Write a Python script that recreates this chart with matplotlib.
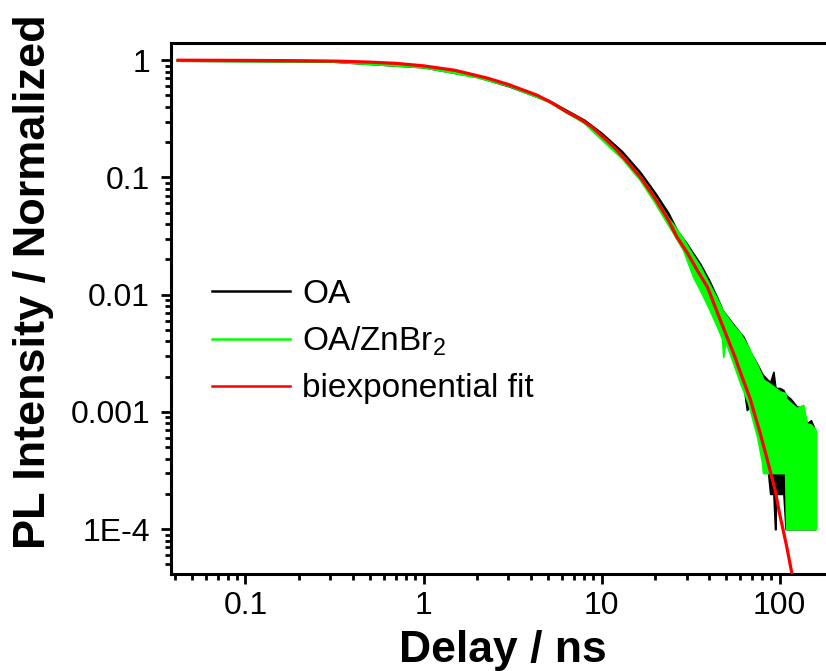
import matplotlib
matplotlib.use('Agg')
import matplotlib.pyplot as plt
from matplotlib.lines import Line2D
from matplotlib.ticker import FixedLocator, FixedFormatter, LogLocator, NullFormatter

plt.rcParams['font.family'] = ['Liberation Sans', 'DejaVu Sans']
plt.rcParams['mathtext.fontset'] = 'custom'
plt.rcParams['mathtext.rm'] = 'Liberation Sans'
plt.rcParams['mathtext.it'] = 'Liberation Sans:italic'
plt.rcParams['mathtext.bf'] = 'Liberation Sans:bold'

# ---------------- data ----------------
series_labels = ['OA', 'OA/ZnBr$_\\mathregular{2}$', 'biexponential fit']

# OA (black): noisy decay, lower / upper envelope of the trace
oa_t = [0.041, 0.3, 1, 2, 3, 5, 8, 10, 13, 16.5, 20, 23.7, 26.5, 30, 35.7, 40,
        44.4, 48, 52.7, 57, 62.6, 65.4, 68, 74.5, 80, 85, 88.5, 92.3, 94.2,
        94.8, 95.5, 100, 105, 108, 115, 125, 134, 142, 150, 158]
oa_lo = [0.99, 0.975, 0.87, 0.72, 0.60, 0.45, 0.297, 0.224, 0.153, 0.099, 0.065,
         0.043, 0.031, 0.0232, 0.0148, 0.0107, 0.0074, 0.0054, 0.0038, 0.0027,
         0.0017, 0.00104, 0.0011, 0.00075, 0.0005, 0.000367, 0.0002, 0.0002,
         0.0001, 0.0001, 0.0002, 0.0002, 0.0002, 0.0001, 0.0001, 0.0001, 0.0001,
         0.0001, 0.0001, 0.0001]
oa_hi = [1.01, 0.99, 0.885, 0.735, 0.625, 0.46, 0.31, 0.24, 0.168, 0.111, 0.074,
         0.05, 0.0356, 0.0275, 0.0185, 0.0135, 0.0096, 0.0073, 0.00607, 0.0052,
         0.00438, 0.0038, 0.0033, 0.00259, 0.0021, 0.0019, 0.0018, 0.0022,
         0.0017, 0.0016, 0.0016, 0.0016, 0.00154, 0.0014, 0.0013, 0.00111,
         0.0011, 0.0008, 0.00085, 0.0007]

# OA/ZnBr2 (green)
zn_t = [0.041, 0.3, 1, 2, 3, 5, 8, 10, 13, 16.5, 20, 23.7, 25.2, 28.7, 32.7,
        35.7, 39.7, 44.6, 47.5, 48.2, 49.5, 54.8, 60, 66.5, 74.8, 79.7, 80.7,
        90, 100, 107.4, 108.8, 115, 125, 135.6, 142, 150, 160]
zn_lo = [0.99, 0.975, 0.87, 0.715, 0.605, 0.445, 0.29, 0.21, 0.145, 0.094, 0.06,
         0.039, 0.0335, 0.024, 0.0141, 0.01094, 0.00784, 0.0053, 0.0042, 0.00294,
         0.0040, 0.00261, 0.00176, 0.00119, 0.00061, 0.000367, 0.000301,
         0.000301, 0.000301, 0.000301, 0.0001, 0.0001, 0.0001, 0.0001, 0.0001,
         0.0001, 0.0001]
zn_hi = [1.01, 0.995, 0.885, 0.73, 0.62, 0.458, 0.302, 0.226, 0.157, 0.103, 0.068,
         0.045, 0.04, 0.030, 0.0215, 0.0175, 0.0128, 0.0092, 0.0075, 0.0072,
         0.0068, 0.0055, 0.0047, 0.0036, 0.0025, 0.0020, 0.0019, 0.0017, 0.0015,
         0.00145, 0.0013, 0.0012, 0.00108, 0.00115, 0.0008, 0.00078, 0.0007]

# biexponential fit (red)
fit_t = [0.041, 0.1, 0.2, 0.327, 0.5, 0.7, 1.0, 1.5, 2.27, 3, 4.34, 5.3, 6.4,
         7.57, 8.8, 10.2, 12, 14, 16.5, 20, 23.7, 26.5, 30, 35, 39.3, 46.4,
         56.3, 60, 68.2, 77.7, 84.9, 94.4, 100, 109.6, 117.5, 122]
fit_y = [1.0, 0.996, 0.99, 0.982, 0.963, 0.94, 0.895, 0.82, 0.705, 0.62, 0.503,
         0.43, 0.36, 0.315, 0.27, 0.221, 0.175, 0.135, 0.1007, 0.066, 0.0433,
         0.031, 0.0233, 0.0155, 0.0116, 0.00608, 0.0029, 0.0022, 0.0013, 0.00066,
         0.0004, 0.000215, 0.000135, 0.000071, 0.000041, 0.000032]

x_ticks = [0.1, 1, 10, 100]
x_tick_labels = ['0.1', '1', '10', '100']
y_ticks = [1e-4, 1e-3, 1e-2, 1e-1, 1]
y_tick_labels = ['1E-4', '0.001', '0.01', '0.1', '1']

# ---------------- figure ----------------
fig = plt.figure(figsize=(8.26, 6.71), dpi=100)
ax = fig.add_axes([0.207, 0.1446, 0.8027, 0.791])
ax.set_xscale('log')
ax.set_yscale('log')

ax.fill_between(oa_t, oa_lo, oa_hi, facecolor='black', edgecolor='black',
                lw=1.2, zorder=2)
ax.fill_between(zn_t, zn_lo, zn_hi, facecolor='#00ff00', edgecolor='#00ff00',
                lw=1.2, zorder=3)
ax.plot(fit_t, fit_y, color='#ff0000', lw=2.3, zorder=4, solid_capstyle='butt')

ax.set_xlim(0.03815, 202)
ax.set_ylim(4.15e-5, 1.396)

ax.xaxis.set_major_locator(FixedLocator(x_ticks))
ax.xaxis.set_major_formatter(FixedFormatter(x_tick_labels))
ax.yaxis.set_major_locator(FixedLocator(y_ticks))
ax.yaxis.set_major_formatter(FixedFormatter(y_tick_labels))
for axis in (ax.xaxis, ax.yaxis):
    axis.set_minor_locator(LogLocator(base=10, subs=range(2, 10), numticks=30))
    axis.set_minor_formatter(NullFormatter())

ax.tick_params(which='both', direction='out', top=False, right=False, width=2)
ax.tick_params(which='major', length=7, labelsize=23)
ax.tick_params(which='minor', length=4)
ax.tick_params(axis='x', which='major', pad=5)
ax.tick_params(axis='y', which='major', pad=8)
for s in ax.spines.values():
    s.set_linewidth(2.2)

ax.set_xlabel('Delay / ns', fontsize=32, fontweight='bold', labelpad=6.5)
ax.set_ylabel('PL Intensity / Normalized', fontsize=32.5, fontweight='bold')
ax.yaxis.set_label_coords(-0.176, 0.55)

handles = [Line2D([], [], color='black', lw=1.8),
           Line2D([], [], color='#00ff00', lw=1.8),
           Line2D([], [], color='#ff0000', lw=1.8)]
ax.legend(handles, series_labels, loc='upper left', bbox_to_anchor=(0.0618, 0.5558),
          frameon=False, fontsize=24, handlelength=2.34, handletextpad=0.36,
          borderpad=0, borderaxespad=0, labelspacing=0.45)

fig.savefig('out.png', dpi=100)
